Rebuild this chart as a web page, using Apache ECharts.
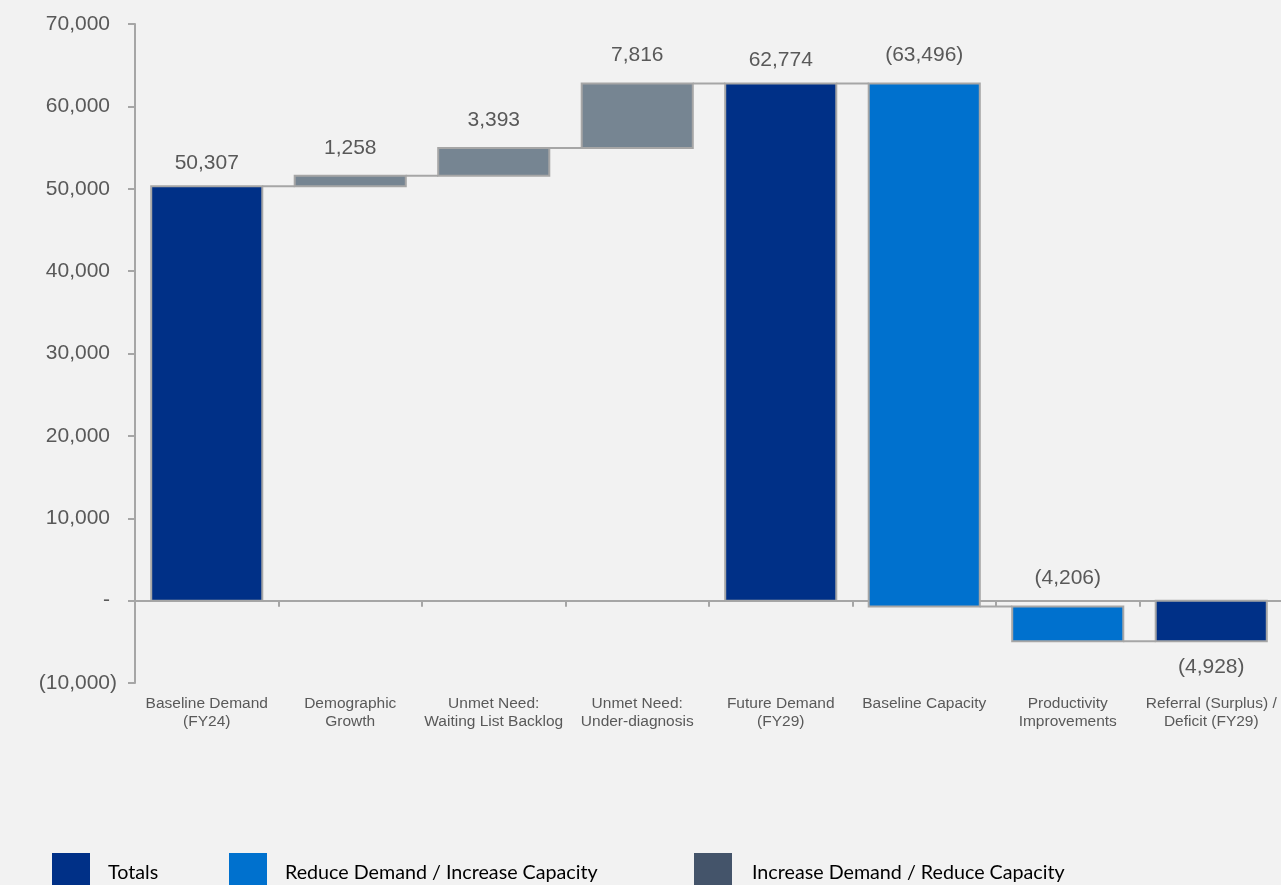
<!DOCTYPE html>
<html>
<head>
<meta charset="utf-8">
<script src="https://cdn.jsdelivr.net/npm/echarts@6/dist/echarts.min.js"></script>
<style>
  html, body { margin: 0; padding: 0; background: #f2f2f2; }
  #chart { width: 1281px; height: 885px; }
</style>
</head>
<body>
<div id="chart"></div>
<script>
// Waterfall steps: totals are absolute, the rest are changes on the running total
const categories = [
  'Baseline Demand\n(FY24)',
  'Demographic\nGrowth',
  'Unmet Need:\nWaiting List Backlog',
  'Unmet Need:\nUnder-diagnosis',
  'Future Demand\n(FY29)',
  'Baseline Capacity',
  'Productivity\nImprovements',
  'Referral (Surplus) /\nDeficit (FY29)'
];
const stepValues = [50307, 1258, 3393, 7816, 62774, -63496, -4206, -4928];
const stepKinds = ['total', 'increase', 'increase', 'increase', 'total', 'reduce', 'reduce', 'total'];
const yTicks = { min: -10000, max: 70000, interval: 10000 };
const legendLabels = ['Totals', 'Reduce Demand / Increase Capacity', 'Increase Demand / Reduce Capacity'];

const barColors = { total: '#003087', reduce: '#0071ce', increase: '#768592' };
const legendColors = ['#003087', '#0071ce', '#44546a'];
const kindOrder = ['total', 'reduce', 'increase'];
const edge = '#a6a6a6';
const textColor = '#595959';

function fmt(v) {
  if (v === 0) return '-';
  const s = Math.abs(v).toLocaleString('en-US');
  return v < 0 ? '(' + s + ')' : s;
}

// Accounting style axis labels: non-negative values leave room for ")"
function axisFmt(v) {
  return v < 0 ? '{n|' + fmt(v) + '}' : '{p|' + fmt(v) + '}';
}

// Build [index, start, end, kind, value] for each step
let running = 0;
const bars = stepValues.map((v, i) => {
  let start, end;
  if (stepKinds[i] === 'total') { start = 0; end = v; }
  else { start = running; end = running + v; }
  running = end;
  return [i, start, end, kindOrder.indexOf(stepKinds[i]), v];
});

function renderItem(params, api) {
  const i = api.value(0);
  const s = api.value(1), e = api.value(2);
  const kind = kindOrder[api.value(3)];
  const v = api.value(4);
  const band = api.size([1, 0])[0];
  const w = band * 0.774;
  const c = api.coord([i, 0])[0];
  const yTop = api.coord([i, Math.max(s, e)])[1];
  const yBot = api.coord([i, Math.min(s, e)])[1];
  const children = [{
    type: 'rect',
    shape: { x: c - w / 2, y: yTop, width: w, height: yBot - yTop },
    style: { fill: barColors[kind], stroke: edge, lineWidth: 2 }
  }];
  if (i < bars.length - 1) {
    const yc = api.coord([i, e])[1];
    children.push({
      type: 'line',
      shape: { x1: c + w / 2, y1: yc, x2: c + band - w / 2, y2: yc },
      style: { stroke: edge, lineWidth: 2 }
    });
  }
  const below = kind === 'total' && v < 0;
  children.push({
    type: 'text',
    style: {
      text: fmt(v),
      x: c,
      y: below ? yBot + 26 : yTop - (kind === 'total' ? 23 : 28),
      align: 'center',
      verticalAlign: 'middle',
      fill: textColor,
      font: '21px "Liberation Sans", Arial, sans-serif'
    }
  });
  return { type: 'group', children };
}

// Legend drawn as boxes with labels along the bottom edge
const legendBoxX = [52, 229, 694];
const legendTextX = [108, 285, 752];
const legendGraphics = [];
legendLabels.forEach((t, k) => {
  legendGraphics.push({
    type: 'rect', left: legendBoxX[k], top: 853,
    shape: { width: 38, height: 40 },
    style: { fill: legendColors[k] }
  });
  legendGraphics.push({
    type: 'text', left: legendTextX[k], top: 863,
    style: { text: t, fill: '#000000', font: '19.7px Lato, "Open Sans", sans-serif' }
  });
});

const chart = echarts.init(document.getElementById('chart'));
chart.setOption({
  backgroundColor: '#f2f2f2',
  animation: false,
  grid: { left: 135, right: -2, top: 24, bottom: 202, containLabel: false, outerBoundsMode: 'none' },
  xAxis: {
    type: 'category',
    data: categories,
    axisLine: { onZero: true, lineStyle: { color: edge, width: 2 } },
    axisTick: { show: true, length: 6, interval: 0, lineStyle: { color: edge, width: 2 } },
    axisLabel: {
      interval: 0, margin: 12, color: textColor,
      fontFamily: '"Liberation Sans", Arial, sans-serif', fontSize: 15.5, lineHeight: 18
    }
  },
  yAxis: {
    type: 'value',
    min: yTicks.min, max: yTicks.max, interval: yTicks.interval,
    axisLine: { show: true, lineStyle: { color: edge, width: 2 } },
    axisTick: { show: true, length: 7, lineStyle: { color: edge, width: 2 } },
    splitLine: { show: false },
    axisLabel: {
      margin: 18, color: textColor,
      fontFamily: '"Liberation Sans", Arial, sans-serif', fontSize: 21,
      formatter: axisFmt,
      rich: {
        p: { color: textColor, fontFamily: '"Liberation Sans", Arial, sans-serif', fontSize: 21, padding: [0, 7, 0, 0] },
        n: { color: textColor, fontFamily: '"Liberation Sans", Arial, sans-serif', fontSize: 21 }
      }
    }
  },
  series: [{
    type: 'custom',
    renderItem,
    encode: { x: 0, y: [1, 2] },
    data: bars,
    clip: false
  }],
  graphic: legendGraphics
});
</script>
</body>
</html>
